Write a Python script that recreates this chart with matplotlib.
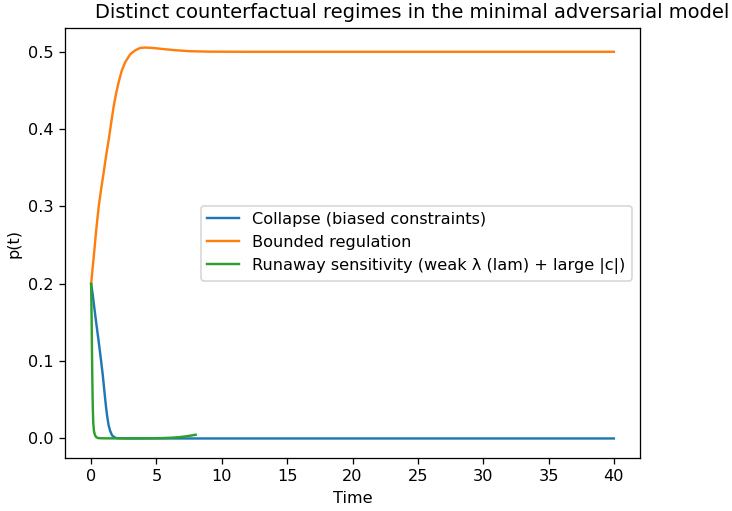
import matplotlib.pyplot as plt

# Values
collapse_t = [0, 0.12, 0.25, 0.4, 0.58, 0.75, 0.89, 1.02, 1.15, 1.25, 1.34, 1.45, 1.6, 1.8, 1.98, 2.5, 3.0, 5.0, 10.0, 20.0, 30.0, 40.0]
collapse_p = [0.2, 0.186, 0.168, 0.148, 0.125, 0.102, 0.082, 0.060, 0.039, 0.026, 0.017, 0.010, 0.004, 0.0013, 0.0004, 0.0001, 0.0, 0.0, 0.0, 0.0, 0.0, 0.0]

bounded_t = [0, 0.1, 0.2, 0.38, 0.58, 0.77, 0.96, 1.15, 1.35, 1.55, 1.73, 1.92, 2.11, 2.35, 2.62, 3.0, 3.38, 3.75, 4.15, 4.7, 5.54, 6.5, 7.5, 9.0, 12.0, 20.0, 30.0, 40.0]
bounded_p = [0.2, 0.218, 0.235, 0.268, 0.300, 0.323, 0.344, 0.366, 0.387, 0.410, 0.430, 0.447, 0.461, 0.476, 0.487, 0.497, 0.502, 0.505, 0.5055, 0.505, 0.5035, 0.502, 0.5008, 0.5002, 0.5, 0.5, 0.5, 0.5]

runaway_t = [0, 0.04, 0.08, 0.12, 0.16, 0.22, 0.3, 0.4, 0.55, 0.8, 1.5, 3.0, 4.5, 5.5, 6.2, 6.8, 7.3, 7.7, 8.0]
runaway_p = [0.2, 0.15, 0.09, 0.045, 0.021, 0.009, 0.004, 0.0015, 0.0005, 0.0002, 0.0001, 0.0001, 0.0002, 0.0005, 0.001, 0.0018, 0.0028, 0.0039, 0.0048]

labels = ['Collapse (biased constraints)',
          'Bounded regulation',
          'Runaway sensitivity (weak \u03bb (lam) + large |c|)']

fig = plt.figure(figsize=(732 / 116, 511 / 116), dpi=116)
ax = fig.add_axes([65 / 732, 53 / 511, 575 / 732, 430 / 511])

ax.plot(collapse_t, collapse_p, label=labels[0])
ax.plot(bounded_t, bounded_p, label=labels[1])
ax.plot(runaway_t, runaway_p, label=labels[2])

ax.set_xlabel('Time')
ax.set_ylabel('p(t)')
ax.legend(loc='center right')

# title sits off-centre in the reference
fig.text(412 / 732, 1 - 13 / 511, 'Distinct counterfactual regimes in the minimal adversarial model',
         ha='center', va='center', fontsize=12)

fig.savefig('out.png', dpi=116)
